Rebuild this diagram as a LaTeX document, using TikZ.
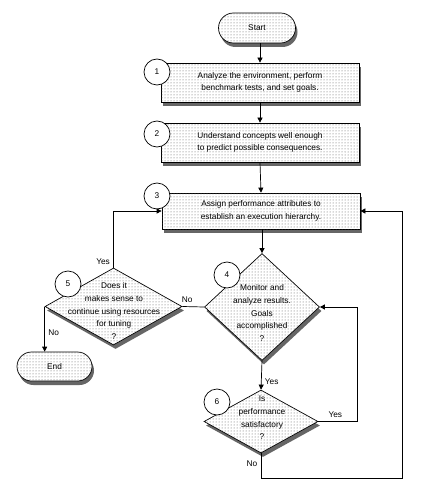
\documentclass[tikz,border=0pt]{standalone}
\usepackage{fontspec}
\setmainfont{Liberation Sans}
\usetikzlibrary{shapes.geometric,shapes.misc,shadows,patterns,arrows.meta}
\begin{document}
\begin{tikzpicture}[x=1pt,y=-1pt, line width=0.7pt,
  every node/.style={font=\fontsize{8.3}{12.6}\selectfont},
  dotfill/.style={fill=white, postaction={pattern=dots, pattern color=black!65}},
  shade/.style={drop shadow={shadow xshift=2pt, shadow yshift=-4pt, fill=black!60, opacity=1}},
  box/.style={draw, dotfill, shade, minimum width=198pt, minimum height=39pt, align=center, inner sep=0pt},
  pill/.style={draw, rounded rectangle, dotfill, shade, minimum width=77pt, minimum height=30pt, inner sep=0pt},
  dia/.style={draw, diamond, dotfill, shade, inner sep=0pt},
  num/.style={draw, circle, fill=white, minimum size=26pt, inner sep=0pt},
  arr/.style={-{Triangle[length=5pt,width=5pt]}},
  txt/.style={align=center, inner sep=0pt}
]
\fill[white] (0,0) rectangle (421,497);
% nodes
\node[pill] (start) at (257,28) {Start};
\node[box] (b1) at (260,82.5) {Analyze the environment, perform\\benchmark tests, and set goals.};
\node[box] (b2) at (260,142.5) {Understand concepts well enough\\to predict possible consequences.};
\node[box, minimum height=36pt] (b3) at (261,211) {Assign performance attributes to\\establish an execution hierarchy.};
\node[dia, minimum width=115pt, minimum height=107pt] (d4) at (262,307) {};
\node[txt] (t4) at (262,313) {Monitor and\\analyze results.\\Goals\\accomplished\\?};
\node[dia, minimum width=137pt, minimum height=77pt] (d5) at (113.5,306.5) {};
\node[txt] (t5) at (114,311) {Does it\\makes sense to\\continue using resources\\for tuning\\?};
\node[dia, minimum width=114pt, minimum height=63pt] (d6) at (261,421.5) {};
\node[txt] (t6) at (262,418) {Is\\performance\\satisfactory\\?};
\node[pill, minimum width=75pt, minimum height=29pt] (endn) at (54.5,366.5) {End};
\node[num] (c1) at (157,72) {1};
\node[num] (c2) at (157,134) {2};
\node[num] (c3) at (157,196) {3};
\node[num] (c4) at (227,275) {4};
\node[num] (c5) at (68,284) {5};
\node[num] (c6) at (217,402) {6};
\coordinate (r1) at (357,0);
\coordinate (r2) at (402,478);
% connectors
\draw[arr] (start.south -| b1.north) -- (b1.north);
\draw[arr] (b1.south) -- (b2.north);
\draw[arr] (b2.south) -- (b3.north);
\draw[arr] (b3.south -| d4.north) -- (d4.north);
\draw (d4.west) -- node[above, pos=0.78]{No} (d5.east);
\draw[arr] (d5.north) |- node[pos=0.05, left]{Yes} (b3.west);
\draw[arr] (d5.west) -- node[right, pos=0.58]{No} (d5.west |- endn.north);
\draw[arr] (d4.south) -- node[right, pos=0.72]{Yes} (d6.north);
\draw[arr] (d6.east) -- node[above, pos=0.44]{Yes} (d6.east -| r1) -- (d4.east -| r1) -- (d4.east);
\draw[arr] (d6.south) -- node[left, pos=0.4]{No} (d6.south |- r2) -- (r2) -- (r2 |- b3.east) -- (b3.east);
\end{tikzpicture}
\end{document}
